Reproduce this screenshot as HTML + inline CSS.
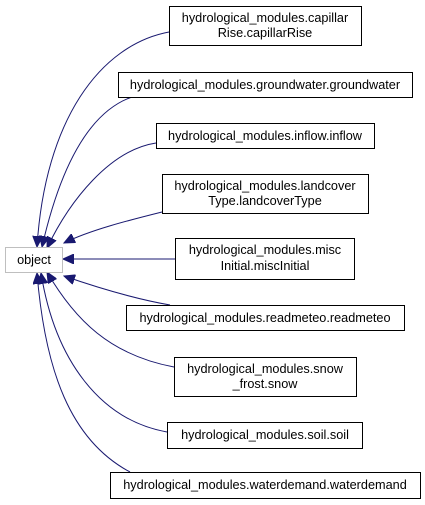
<!DOCTYPE html>
<html><head><style>
body{margin:0;background:#fff;}
svg{display:block}
text{font-family:"Liberation Sans",Arial,sans-serif;font-size:12.7px;fill:#000;text-anchor:middle}
</style></head><body>
<svg width="425" height="505" viewBox="0 0 425 505">
<defs><marker id="a" markerWidth="12" markerHeight="10" refX="11" refY="5" orient="auto" markerUnits="userSpaceOnUse"><path d="M0,0 L11,5 L0,10 Z" fill="#191970" stroke="#191970"/></marker></defs>
<g fill="none" stroke="#191970" stroke-width="1" marker-end="url(#a)">
<path d="M169,32 C100,45 45,120 37,247"/>
<path d="M132,97 C80,115 55,190 42,247"/>
<path d="M156,143 C110,150 70,200 47,248"/>
<path d="M162,212 C130,220 90,230 64,243"/>
<path d="M175,259 L63,259"/>
<path d="M170,305 C130,298 90,285 64,276"/>
<path d="M174,367 C110,355 75,320 47,272"/>
<path d="M167,432 C100,420 55,360 41,273"/>
<path d="M130,472 C70,440 45,370 37,273"/>
</g>
<g fill="#fff" stroke="#000" stroke-width="1">
<rect x="169.5" y="6.5" width="192" height="39"/>
<rect x="118.5" y="72.5" width="294" height="25"/>
<rect x="156.5" y="123.5" width="218" height="25"/>
<rect x="162.5" y="174.5" width="206" height="39"/>
<rect x="175.5" y="238.5" width="179" height="41"/>
<rect x="126.5" y="305.5" width="278" height="25"/>
<rect x="174.5" y="357.5" width="182" height="39"/>
<rect x="167.5" y="422.5" width="195" height="26"/>
<rect x="110.5" y="472.5" width="310" height="26"/>
<rect x="5.5" y="247.5" width="57" height="25" stroke="#bfbfbf"/>
</g>
<text x="265" y="22">hydrological_modules.capillar</text>
<text x="265" y="37">Rise.capillarRise</text>
<text x="265" y="89">hydrological_modules.groundwater.groundwater</text>
<text x="265" y="140">hydrological_modules.inflow.inflow</text>
<text x="265" y="190">hydrological_modules.landcover</text>
<text x="265" y="205">Type.landcoverType</text>
<text x="265" y="254">hydrological_modules.misc</text>
<text x="265" y="270">Initial.miscInitial</text>
<text x="265" y="322">hydrological_modules.readmeteo.readmeteo</text>
<text x="265" y="373">hydrological_modules.snow</text>
<text x="265" y="388">_frost.snow</text>
<text x="265" y="439">hydrological_modules.soil.soil</text>
<text x="265" y="489">hydrological_modules.waterdemand.waterdemand</text>
<text x="34" y="264">object</text>
</svg>
</body></html>
